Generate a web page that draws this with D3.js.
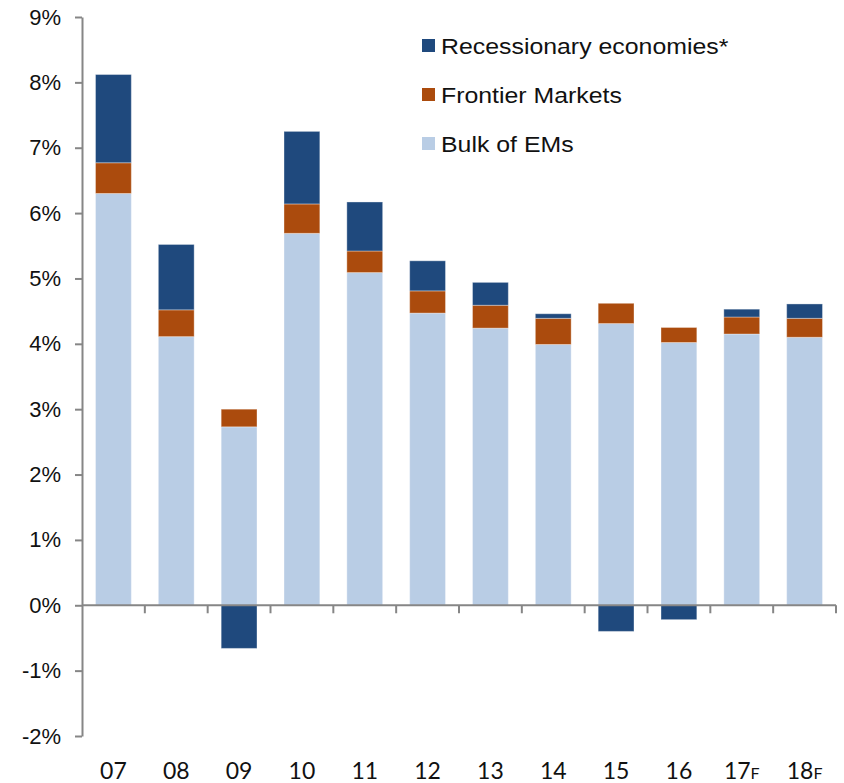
<!DOCTYPE html>
<html>
<head>
<meta charset="utf-8">
<script src="https://cdn.jsdelivr.net/npm/d3@7"></script>
<style>
  body { margin: 0; background: #fff; }
  svg { display: block; }
</style>
</head>
<body>
<svg id="chart" width="844" height="783"></svg>
<script>
const years = ["07","08","09","10","11","12","13","14","15","16","17","18"];
const forecast = ["17","18"];
const bulk = [6.30, 4.11, 2.73, 5.69, 5.09, 4.47, 4.24, 3.99, 4.31, 4.02, 4.15, 4.10];
const frontier = [0.47, 0.41, 0.27, 0.45, 0.33, 0.34, 0.35, 0.40, 0.31, 0.23, 0.26, 0.29];
const recession = [1.35, 1.00, -0.66, 1.11, 0.75, 0.46, 0.35, 0.07, -0.40, -0.22, 0.12, 0.22];
const seriesNames = ["Bulk of EMs", "Frontier Markets", "Recessionary economies*"];
const colors = ["#b9cde5", "#ab4b0d", "#1f497d"];
const yTicks = [-2, -1, 0, 1, 2, 3, 4, 5, 6, 7, 8, 9];

const svg = d3.select("#chart");

const x = d3.scaleBand().domain(years).range([82, 836]).paddingInner(0.43).paddingOuter(0.215);
const y = d3.scaleLinear().domain([-2, 9]).range([736, 17]);

const rows = years.map((yr, i) => ({ year: yr, s0: bulk[i], s1: frontier[i], s2: recession[i] }));
const stack = d3.stack().keys(["s0", "s1", "s2"]).offset(d3.stackOffsetDiverging);
const layers = stack(rows);

// bars
svg.append("g").selectAll("g")
  .data(layers).enter().append("g")
  .attr("fill", (d, i) => colors[i])
  .selectAll("rect")
  .data(d => d).enter().append("rect")
  .attr("x", d => x(d.data.year))
  .attr("width", x.bandwidth())
  .attr("y", d => y(Math.max(d[0], d[1])))
  .attr("height", d => Math.abs(y(d[0]) - y(d[1])))
  .attr("stroke", "#ffffff")
  .attr("stroke-opacity", 0.35)
  .attr("stroke-width", 1);

// y axis
const yAxis = svg.append("g")
  .attr("transform", "translate(82,0)")
  .call(d3.axisLeft(y).tickValues(yTicks).tickFormat(d => d + "%").tickSize(7).tickSizeOuter(0).tickPadding(14));
yAxis.select(".domain").attr("stroke", "#868686").attr("stroke-width", 2);
yAxis.selectAll(".tick line").attr("stroke", "#868686").attr("stroke-width", 2);
yAxis.selectAll(".tick text")
  .attr("font-family", "Liberation Sans, Arial, sans-serif")
  .attr("font-size", "22px")
  .attr("fill", "#111");

// x axis line at zero, ticks on band edges
const xg = svg.append("g");
xg.append("line")
  .attr("x1", 82).attr("x2", 836)
  .attr("y1", y(0)).attr("y2", y(0))
  .attr("stroke", "#868686").attr("stroke-width", 2);
const step = x.step();
const edge = d => x(d) - step * x.paddingInner() / 2;
xg.selectAll(".xt")
  .data(years.slice(1)).enter().append("line")
  .attr("x1", edge).attr("x2", edge)
  .attr("y1", y(0)).attr("y2", y(0) + 8)
  .attr("stroke", "#868686").attr("stroke-width", 2);
xg.append("line")
  .attr("x1", 836).attr("x2", 836)
  .attr("y1", y(0)).attr("y2", y(0) + 8)
  .attr("stroke", "#868686").attr("stroke-width", 2);

const xl = xg.selectAll(".xl")
  .data(years).enter().append("text")
  .attr("x", d => x(d) + x.bandwidth() / 2)
  .attr("y", 779)
  .attr("text-anchor", "middle")
  .attr("font-family", "Lato, Open Sans, sans-serif")
  .attr("font-size", "23px")
  .attr("fill", "#111");
xl.append("tspan").text(d => d);
xl.filter(d => forecast.includes(d)).append("tspan").attr("font-size", "16px").text("F");

// legend
const legendRows = [2, 1, 0];
const lg = svg.append("g").selectAll("g")
  .data(legendRows).enter().append("g")
  .attr("transform", (d, i) => `translate(422,${46 + i * 49})`);
lg.append("rect")
  .attr("x", 0).attr("y", -7).attr("width", 13).attr("height", 13)
  .attr("fill", d => colors[d]);
lg.append("text")
  .attr("transform", "translate(19,8) scale(1.13,1)")
  .attr("font-family", "Liberation Sans, Arial, sans-serif")
  .attr("font-size", "22px")
  .attr("fill", "#111")
  .text(d => seriesNames[d]);
</script>
</body>
</html>
